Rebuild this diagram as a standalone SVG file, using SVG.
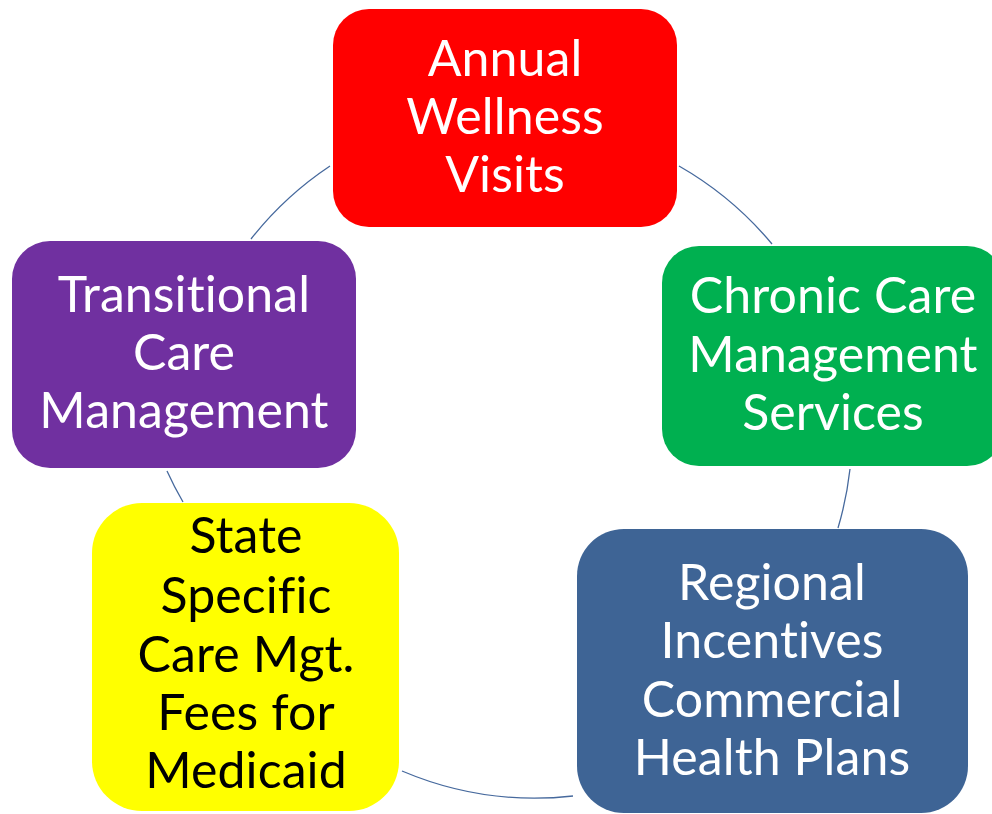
<svg xmlns="http://www.w3.org/2000/svg" width="992" height="814" viewBox="0 0 992 814">
  <style>
    .box { stroke: none; }
    .lbl { font-family: Lato, "Open Sans", "Liberation Sans", sans-serif; font-size: 50px; text-anchor: middle; letter-spacing: 0.1px; font-variant-ligatures: none; font-feature-settings: "liga" 0, "clig" 0, "dlig" 0; }
    .light { fill: #ffffff; }
    .dark { fill: #000000; }
    .arc { fill: none; stroke: #46699D; stroke-width: 1.3; }
  </style>
  <rect width="992" height="814" fill="#ffffff"/>

  <!-- cycle connectors: arcs of one ring running clockwise between the boxes -->
  <g id="connectors">
    <path class="arc" d="M 679 166 A 341 341 0 0 1 772 244"/>
    <path class="arc" d="M 850 469 A 341 341 0 0 1 838 528"/>
    <path class="arc" d="M 573 796 A 341 341 0 0 1 402 771"/>
    <path class="arc" d="M 183 502 A 341 341 0 0 1 167 471"/>
    <path class="arc" d="M 251 239 A 341 341 0 0 1 330 166"/>
  </g>

  <g id="node-awv">
    <rect class="box" x="333" y="9" width="344" height="218" rx="36" fill="#FF0000"/>
    <text class="lbl light"><tspan x="505" y="76">Annual</tspan><tspan x="505" y="134">Wellness</tspan><tspan x="505" y="192">Visits</tspan></text>
  </g>

  <g id="node-ccm">
    <rect class="box" x="662" y="246" width="342" height="220" rx="37" fill="#00B050"/>
    <text class="lbl light"><tspan x="833" y="313">Chronic Care</tspan><tspan x="833" y="372">Management</tspan><tspan x="833" y="430">Services</tspan></text>
  </g>

  <g id="node-regional">
    <rect class="box" x="577" y="529" width="391" height="284" rx="47" fill="#3E6495"/>
    <text class="lbl light"><tspan x="772" y="600">Regional</tspan><tspan x="772" y="658">Incentives</tspan><tspan x="772" y="717">Commercial</tspan><tspan x="772" y="775">Health Plans</tspan></text>
  </g>

  <g id="node-state">
    <rect class="box" x="92" y="503" width="307" height="308" rx="50" fill="#FFFF00"/>
    <text class="lbl dark"><tspan x="246" y="553">State</tspan><tspan x="246" y="613">Specific</tspan><tspan x="246" y="672">Care Mgt.</tspan><tspan x="246" y="730">Fees for</tspan><tspan x="246" y="788">Medicaid</tspan></text>
  </g>

  <g id="node-tcm">
    <rect class="box" x="12" y="241" width="344" height="227" rx="38" fill="#7030A0"/>
    <text class="lbl light"><tspan x="184" y="312">Transitional</tspan><tspan x="184" y="370">Care</tspan><tspan x="184" y="428">Management</tspan></text>
  </g>
</svg>
